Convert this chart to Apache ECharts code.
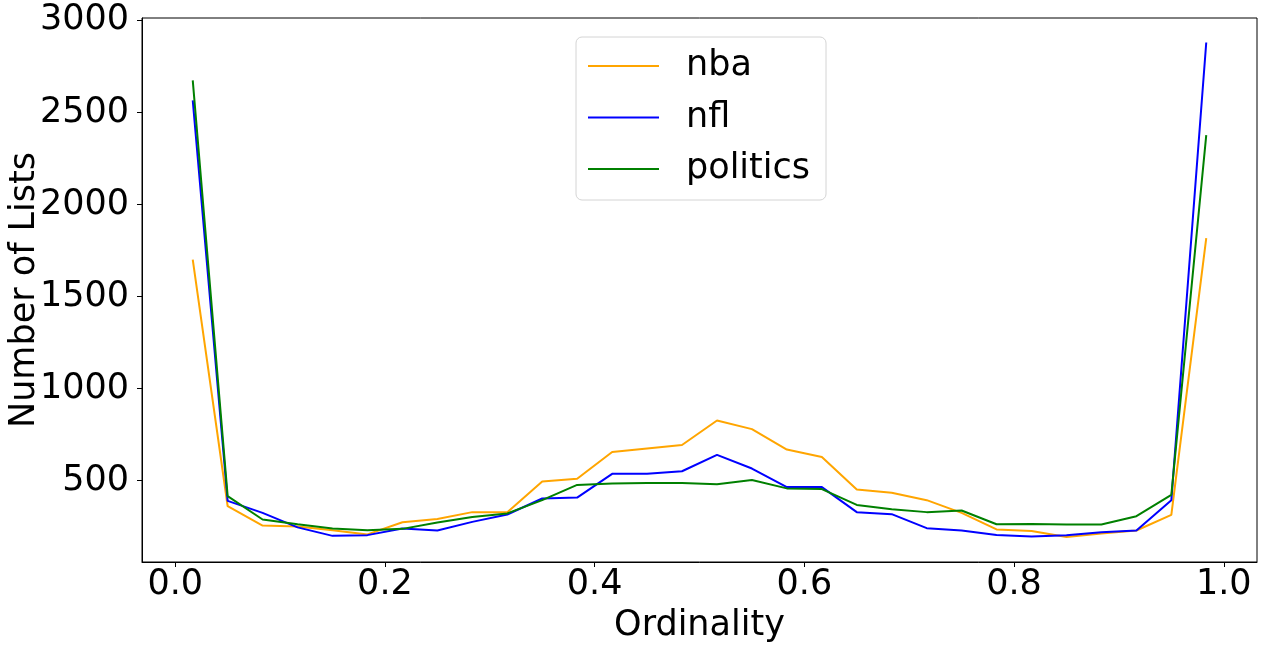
<!DOCTYPE html>
<html>
<head>
<meta charset="utf-8">
<script src="https://cdn.jsdelivr.net/npm/echarts@6/dist/echarts.min.js"></script>
<style>
html,body{margin:0;padding:0;background:#fff;}
#chart{width:1264px;height:648px;}
</style>
</head>
<body>
<div id="chart"></div>
<script>
const ordinality = [0.0167, 0.05, 0.0833, 0.1167, 0.15, 0.1833, 0.2167, 0.25, 0.2833, 0.3167,
  0.35, 0.3833, 0.4167, 0.45, 0.4833, 0.5167, 0.55, 0.5833, 0.6167, 0.65,
  0.6833, 0.7167, 0.75, 0.7833, 0.8167, 0.85, 0.8833, 0.9167, 0.95, 0.9833];
const nba = [1700, 360, 255, 250, 230, 207, 273, 291, 328, 328,
  495, 509, 655, 674, 693, 826, 779, 668, 628, 451,
  433, 393, 324, 234, 226, 193, 212, 228, 313, 1817];
const nfl = [2565, 389, 324, 245, 199, 203, 239, 228, 275, 315,
  402, 407, 536, 536, 550, 639, 565, 464, 464, 328,
  317, 241, 228, 204, 196, 203, 219, 228, 393, 2880];
const politics = [2674, 415, 288, 262, 239, 230, 237, 272, 302, 321,
  393, 476, 484, 486, 486, 480, 503, 457, 453, 367,
  344, 328, 337, 262, 264, 261, 261, 306, 422, 2377];
const xTicks = [0, 0.2, 0.4, 0.6, 0.8, 1.0];
const yTicks = [500, 1000, 1500, 2000, 2500, 3000];
const seriesNames = ['nba', 'nfl', 'politics'];
const seriesColors = ['#FFA500', '#0000FF', '#008000'];
const seriesData = [nba, nfl, politics];

const FONT = 'DejaVu Sans';
const chart = echarts.init(document.getElementById('chart'), null, {renderer: 'canvas'});
chart.setOption({
  animation: false,
  backgroundColor: '#fff',
  textStyle: {fontFamily: FONT, color: '#000'},
  grid: {left: 142, top: 18, width: 1115, height: 544, show: true, borderColor: '#000', borderWidth: 1,
    containLabel: false, outerBoundsMode: 'none'},
  legend: {
    left: 576, top: 37,
    orient: 'vertical',
    data: seriesNames.map(n => ({name: n, icon: 'rect'})),
    backgroundColor: '#fff',
    borderColor: '#d4d4d4',
    borderWidth: 1,
    borderRadius: 6,
    padding: [9, 16, 11, 12],
    itemWidth: 71,
    itemHeight: 2,
    itemGap: 11.5,
    textStyle: {fontFamily: FONT, fontSize: 35, color: '#000', lineHeight: 40, padding: [0, 0, 0, 22]}
  },
  xAxis: {
    type: 'value',
    min: -0.0317, max: 1.0317,
    name: 'Ordinality',
    nameLocation: 'middle',
    nameGap: 46,
    nameMoveOverlap: false,
    nameTextStyle: {fontFamily: FONT, fontSize: 35, color: '#000'},
    splitLine: {show: false},
    axisLine: {show: true, onZero: false, lineStyle: {color: '#000', width: 1}},
    axisTick: {show: true, length: 5, lineStyle: {color: '#000'}, customValues: xTicks},
    axisLabel: {fontFamily: FONT, fontSize: 35, color: '#000', margin: 5, customValues: xTicks,
      formatter: v => v.toFixed(1)}
  },
  yAxis: {
    type: 'value',
    min: 57, max: 3013,
    name: 'Number of Lists',
    nameLocation: 'middle',
    nameRotate: 90,
    nameGap: 100,
    nameMoveOverlap: false,
    nameTextStyle: {fontFamily: FONT, fontSize: 35, color: '#000'},
    splitLine: {show: false},
    axisLine: {show: true, onZero: false, lineStyle: {color: '#000', width: 1}},
    axisTick: {show: true, length: 5, lineStyle: {color: '#000'}, customValues: yTicks},
    axisLabel: {fontFamily: FONT, fontSize: 35, color: '#000', margin: 13, customValues: yTicks,
      padding: [5, 0, 0, 0],
      formatter: v => String(v)}
  },
  series: seriesNames.map((name, i) => ({
    name: name,
    type: 'line',
    symbol: 'none',
    showSymbol: false,
    color: seriesColors[i],
    lineStyle: {color: seriesColors[i], width: 2},
    data: ordinality.map((x, j) => [x, seriesData[i][j]])
  }))
});
</script>
</body>
</html>
